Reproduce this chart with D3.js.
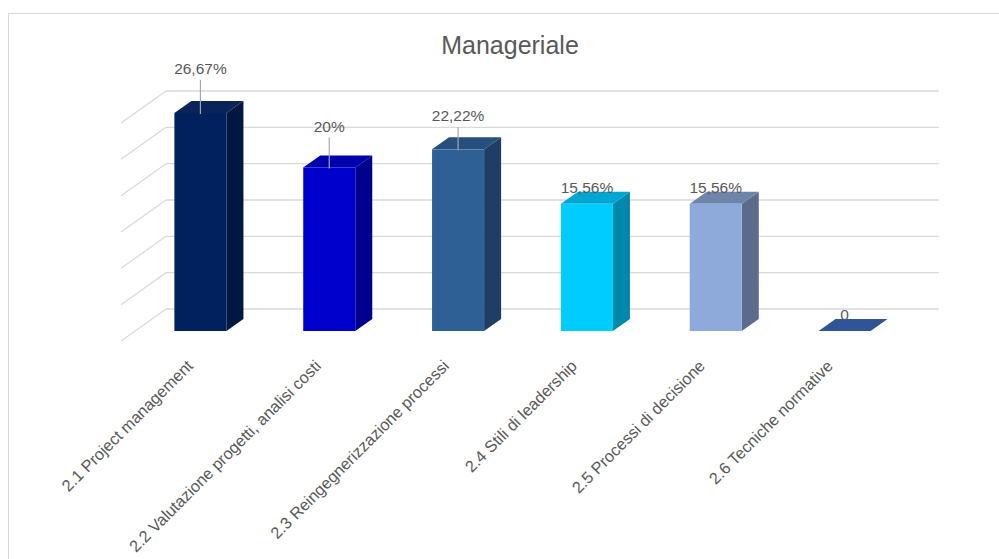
<!DOCTYPE html>
<html>
<head>
<meta charset="utf-8">
<script src="https://cdn.jsdelivr.net/npm/d3@7"></script>
<style>
  body { margin: 0; background: #fff; }
  svg { display: block; font-family: "Liberation Sans", Arial, sans-serif; }
</style>
</head>
<body>
<svg width="999" height="559"></svg>
<script>
// Chart data
const categories = [
    "2.1 Project management",
    "2.2 Valutazione progetti, analisi costi",
    "2.3 Reingegnerizzazione processi",
    "2.4 Stili di leadership",
    "2.5 Processi di decisione",
    "2.6 Tecniche normative"
];
const values = [26.67, 20, 22.22, 15.56, 15.56, 0];
const valueLabels = ["26,67%", "20%", "22,22%", "15,56%", "15,56%", "0"];
const wallTicks = [0, 5, 10, 15, 20, 25, 30];

// Styling / layout (not data)
const faceColors = [
    { front: "#00215e", side: "#001840", top: "#0a2358" },
    { front: "#0000cc", side: "#00008c", top: "#0000ad" },
    { front: "#2e6096", side: "#1f3e65", top: "#274f7e" },
    { front: "#00ccff", side: "#0088aa", top: "#00a6d2" },
    { front: "#8eaadb", side: "#5b6b8c", top: "#6f84ab" },
    { front: "#2f5597", side: "#22406f", top: "#2f5597" }
];
const labelLift = [28, 25, 17, 0, 0, 0];   // leader-line lift above the bar

const svg = d3.select("svg");
const gridColor = "#d9d9d9", textColor = "#595959";

// chart frame
svg.append("rect")
    .attr("x", 8.5).attr("y", 13.5)
    .attr("width", 1200).attr("height", 800)
    .attr("fill", "none").attr("stroke", gridColor);

// title
svg.append("text")
    .attr("x", 510).attr("y", 54)
    .attr("text-anchor", "middle")
    .attr("font-size", 25)
    .attr("fill", textColor)
    .text("Manageriale");

// projection: back wall vs front plane of the bars
const wallDepth = { dx: -45, dy: 32 };   // back wall -> front of floor
const barDepth = { dx: 17, dy: -12 };    // bar front -> bar back
const wallLeft = 166, wallRight = 939;
const yBack = d3.scaleLinear().domain([0, 30]).range([309, 91]);
const frontBase = 331;
const yFront = d3.scaleLinear().domain([0, 30]).range([frontBase, frontBase - 218 * 1.125]);

const x = d3.scaleBand()
    .domain(categories)
    .range([136, 136 + (wallRight - wallLeft)])
    .paddingInner(0.596)
    .paddingOuter(0.298);

// category labels sit on the floor's front edge, slightly tighter spacing
const xLabel = d3.scalePoint()
    .domain(categories)
    .range([194, 834]);

// gridlines on the back wall + side wall diagonals
const grid = svg.append("g")
    .attr("stroke", gridColor)
    .attr("stroke-width", 1.3)
    .attr("fill", "none");

grid.selectAll("line.h")
    .data(wallTicks)
    .join("line")
    .attr("class", "h")
    .attr("x1", wallLeft).attr("x2", wallRight)
    .attr("y1", d => yBack(d)).attr("y2", d => yBack(d));

grid.selectAll("line.d")
    .data(wallTicks)
    .join("line")
    .attr("class", "d")
    .attr("x1", wallLeft).attr("y1", d => yBack(d))
    .attr("x2", wallLeft + wallDepth.dx).attr("y2", d => yBack(d) + wallDepth.dy);

// bars
const bars = svg.append("g")
    .selectAll("g.bar")
    .data(values)
    .join("g")
    .attr("class", "bar");

const pts = a => a.map(p => p.join(",")).join(" ");

bars.each(function (v, i) {
    const g = d3.select(this);
    const x0 = x(categories[i]), w = x.bandwidth();
    const x1 = x0 + w;
    const top = yFront(v), bot = yFront(0);
    const c = faceColors[i];
    const dx = barDepth.dx, dy = barDepth.dy;

    if (v > 0) {
        g.append("polygon")
            .attr("points", pts([[x1, top], [x1 + dx, top + dy], [x1 + dx, bot + dy], [x1, bot]]))
            .attr("fill", c.side);
    }
    g.append("polygon")
        .attr("points", pts([[x0, top], [x0 + dx, top + dy], [x1 + dx, top + dy], [x1, top]]))
        .attr("fill", c.top);
    if (v > 0) {
        g.append("rect")
            .attr("x", x0).attr("y", top)
            .attr("width", w).attr("height", bot - top)
            .attr("fill", c.front);
    }
});

// data labels (with leader lines where lifted)
const labels = svg.append("g")
    .attr("font-size", 15.5)
    .attr("fill", textColor)
    .attr("text-anchor", "middle");

values.forEach((v, i) => {
    const cx = x(categories[i]) + x.bandwidth() / 2;
    const backTop = yFront(v) + barDepth.dy;
    const base = backTop + 1 - labelLift[i];
    if (labelLift[i] > 0) {
        svg.append("line")
            .attr("x1", cx).attr("x2", cx)
            .attr("y1", base + 6).attr("y2", yFront(v) + 1)
            .attr("stroke", "#a6a6a6")
            .attr("stroke-width", 1.2);
    }
    labels.append("text")
        .attr("x", cx).attr("y", base)
        .text(valueLabels[i]);
});

// category labels, rotated -45°
svg.append("g")
    .attr("font-size", 16.3)
    .attr("fill", textColor)
    .selectAll("text")
    .data(categories)
    .join("text")
    .attr("text-anchor", "end")
    .attr("transform", d => `translate(${xLabel(d)},367) rotate(-45)`)
    .text(d => d);
</script>
</body>
</html>
